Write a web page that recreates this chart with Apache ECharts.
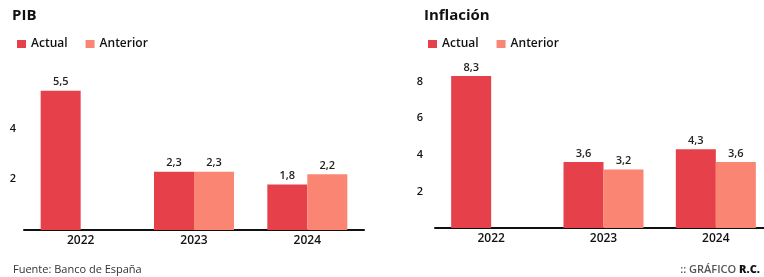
<!DOCTYPE html>
<html>
<head>
<meta charset="utf-8">
<script src="https://cdn.jsdelivr.net/npm/echarts@6/dist/echarts.min.js"></script>
<style>
  html, body { margin: 0; padding: 0; background: #fff; }
  #chart { width: 764px; height: 277px; }
</style>
</head>
<body>
<div id="chart"></div>
<script>
const years = ['2022', '2023', '2024']
const pibActual = [5.5, 2.3, 1.8]
const pibAnterior = [null, 2.3, 2.2]
const inflActual = [8.3, 3.6, 4.3]
const inflAnterior = [null, 3.2, 3.6]

const RED = '#e6404a'
const SALMON = '#fa8572'
const FONT = 'Open Sans'

const fmt = p => String(p.value).replace('.', ',')

const valueLabel = {
  show: true,
  position: 'top',
  distance: 3,
  formatter: fmt,
  fontFamily: FONT,
  fontSize: 11,
  fontWeight: 600,
  color: '#222'
}

const xAxisBase = {
  type: 'category',
  data: years,
  axisLine: { lineStyle: { color: '#111', width: 2 } },
  axisTick: { show: false },
  axisLabel: { color: '#111', fontFamily: FONT, fontSize: 12, fontWeight: 600, margin: 5 }
}

const chart = echarts.init(document.getElementById('chart'))

chart.setOption({
  backgroundColor: '#fff',
  animation: false,
  title: [
    { text: 'PIB', left: 7, top: 3, textStyle: { fontFamily: FONT, fontSize: 15, fontWeight: 'bold', color: '#111' } },
    { text: 'Inflación', left: 419, top: 3, textStyle: { fontFamily: FONT, fontSize: 15, fontWeight: 'bold', color: '#111' } }
  ],
  legend: [
    {
      left: 12, top: 33, itemWidth: 9, itemHeight: 8, itemGap: 18, icon: 'rect',
      data: ['Actual', 'Anterior'],
      textStyle: { fontFamily: FONT, fontSize: 12, fontWeight: 600, color: '#111' }
    },
    {
      left: 423, top: 33, itemWidth: 9, itemHeight: 8, itemGap: 18, icon: 'rect',
      data: ['Actual', 'Anterior'],
      textStyle: { fontFamily: FONT, fontSize: 12, fontWeight: 600, color: '#111' }
    }
  ],
  grid: [
    { left: 24, top: 78, width: 340, height: 152, outerBoundsMode: 'none' },
    { left: 435, top: 45, width: 337, height: 183, outerBoundsMode: 'none' }
  ],
  xAxis: [
    { ...xAxisBase, gridIndex: 0 },
    { ...xAxisBase, gridIndex: 1 }
  ],
  yAxis: [
    {
      type: 'value', gridIndex: 0, min: 0, max: 6, interval: 2,
      axisLine: { show: false }, axisTick: { show: false }, splitLine: { show: false },
      axisLabel: {
        margin: 8, fontFamily: FONT, fontSize: 11, fontWeight: 600, color: '#111',
        formatter: v => (v === 0 || v === 6) ? '' : v
      }
    },
    {
      type: 'value', gridIndex: 1, min: 0, max: 10, interval: 2,
      axisLine: { show: false }, axisTick: { show: false }, splitLine: { show: false },
      axisLabel: {
        margin: 12, fontFamily: FONT, fontSize: 11, fontWeight: 600, color: '#111',
        formatter: v => (v === 0 || v === 10) ? '' : v
      }
    }
  ],
  series: [
    { name: 'Actual', type: 'bar', xAxisIndex: 0, yAxisIndex: 0, data: pibActual, barWidth: 40, barGap: '0%', itemStyle: { color: RED }, label: valueLabel },
    { name: 'Anterior', type: 'bar', xAxisIndex: 0, yAxisIndex: 0, data: pibAnterior, barWidth: 40, barGap: '0%', itemStyle: { color: SALMON }, label: valueLabel },
    { name: 'Actual', type: 'bar', xAxisIndex: 1, yAxisIndex: 1, data: inflActual, barWidth: 40, barGap: '0%', itemStyle: { color: RED }, label: valueLabel },
    { name: 'Anterior', type: 'bar', xAxisIndex: 1, yAxisIndex: 1, data: inflAnterior, barWidth: 40, barGap: '0%', itemStyle: { color: SALMON }, label: valueLabel }
  ],
  graphic: [
    {
      type: 'text', left: 13, top: 264,
      style: { text: 'Fuente: Banco de España', fontFamily: FONT, fontSize: 11, fill: '#333' }
    },
    {
      type: 'text', right: 4, top: 264,
      style: {
        text: '{a|:: GRÁFICO }{b|R.C.}',
        rich: {
          a: { fontFamily: FONT, fontSize: 11, fontWeight: 600, fill: '#555' },
          b: { fontFamily: FONT, fontSize: 11, fontWeight: 800, fill: '#111' }
        }
      }
    }
  ]
})
</script>
</body>
</html>
